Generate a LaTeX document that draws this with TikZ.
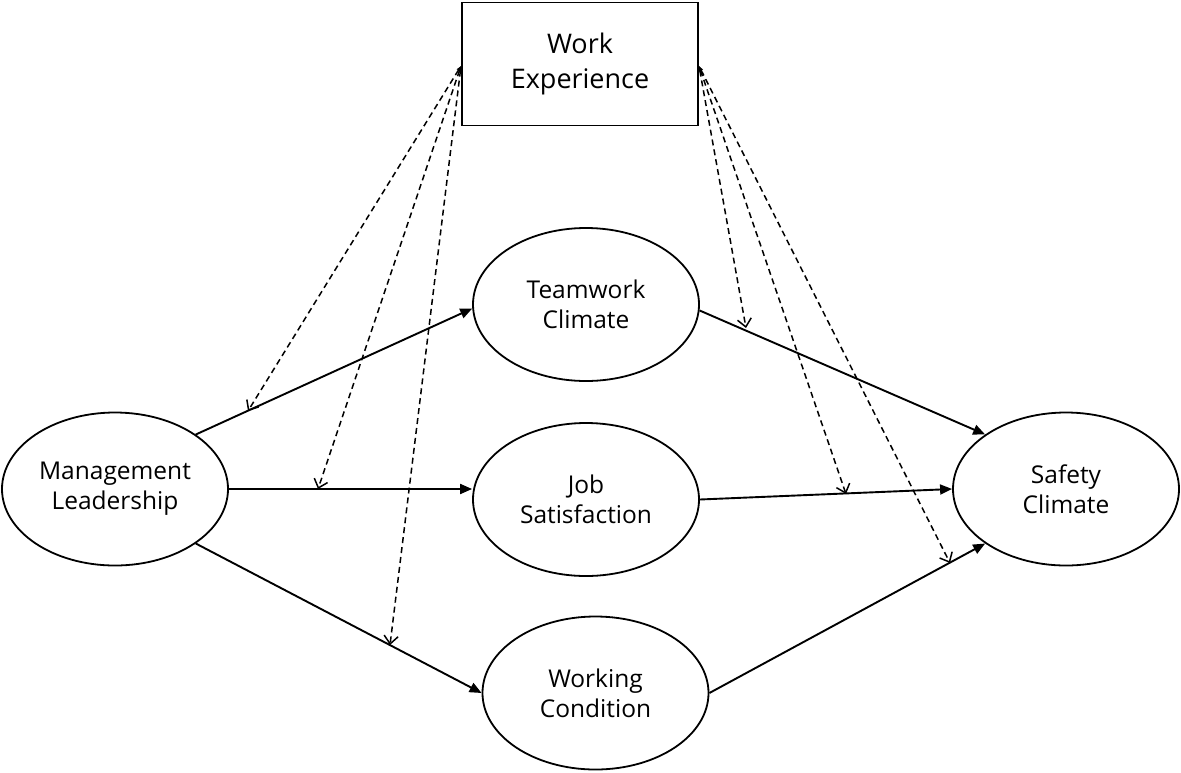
\documentclass[tikz,border=0pt]{standalone}
\usepackage{fontspec}
\setmainfont{Open Sans}
\usetikzlibrary{shapes.geometric,arrows.meta}
\begin{document}
\begin{tikzpicture}[x=1pt,y=-1pt,
  latent/.style={draw,ellipse,line width=1.8pt,minimum width=226pt,minimum height=153pt,inner sep=0pt,align=center,font=\fontsize{24.5}{30}\selectfont},
  boxnode/.style={draw,rectangle,line width=1.8pt,minimum width=236pt,minimum height=123pt,inner sep=0pt,align=center,font=\fontsize{27}{35}\selectfont},
  path/.style={line width=1.9pt,-{Triangle[length=12pt,width=10pt]}},
  moder/.style={line width=1.5pt,dash pattern=on 6pt off 4pt,{Triangle[length=5pt,width=3.5pt]}-{Straight Barb[length=8pt,width=14pt]}}]
\useasboundingbox (0,0) rectangle (1181,772);
\node[boxnode] (WE) at (580,64) {Work\\Experience};
\node[latent] (ML) at (115,489) {Management\\Leadership};
\node[latent] (TC) at (586,304.5) {Teamwork\\Climate};
\node[latent] (JS) at (586,499.5) {Job\\Satisfaction};
\node[latent] (WC) at (595.5,693) {Working\\Condition};
\node[latent] (SC) at (1066,489) {Safety\\Climate};
\draw[path] (ML.34) -- (TC.182);
\draw[path] (ML.east) -- (ML.east -| JS.west);
\draw[path] (ML.-34) -- (WC.west);
\draw[path] (TC.-3) -- (SC.146);
\draw[path] (JS.east) -- (SC.west);
\draw[path] (WC.east) -- (SC.214);
\coordinate (d1) at (248,411);
\coordinate (d2) at (318,489);
\coordinate (d3) at (390,645);
\coordinate (d4) at (746,328);
\coordinate (d5) at (846,494);
\coordinate (d6) at (950,563);
\coordinate (wl) at (461,66);
\coordinate (wr) at (699,66);
\draw[moder] (wl) -- (d1);
\draw[moder] (wl) -- (d2);
\draw[moder] (wl) -- (d3);
\draw[moder] (wr) -- (d4);
\draw[moder] (wr) -- (d5);
\draw[moder] (wr) -- (d6);
\end{tikzpicture}
\end{document}
